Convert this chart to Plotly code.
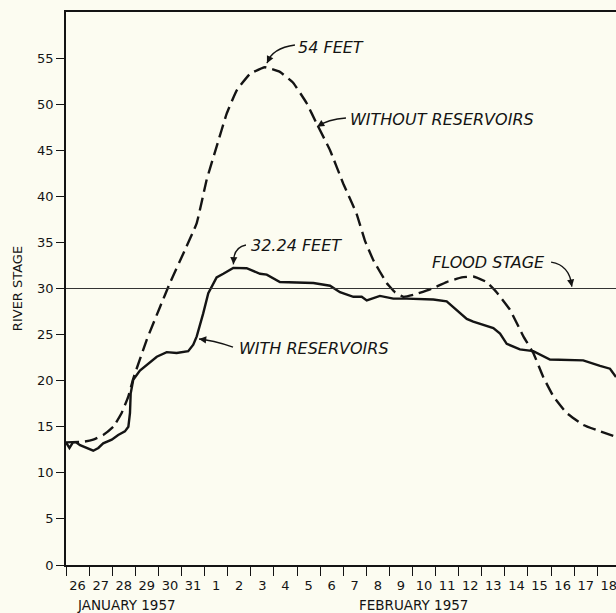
import plotly.graph_objects as go

# Days are measured from 00:00 on 26 January 1957 (0 = start of Jan 26).
DAY_LABELS = ["26", "27", "28", "29", "30", "31",
              "1", "2", "3", "4", "5", "6", "7", "8", "9", "10",
              "11", "12", "13", "14", "15", "16", "17", "18"]
X_MAX = 23.81
Y_MAX = 60
FLOOD_STAGE = 30

# Observed stage with the reservoirs in operation
with_day = [0.00, 0.15, 0.30, 0.45, 0.61, 1.18, 1.40, 1.61, 1.98, 2.26, 2.55,
            2.70, 2.77, 2.80, 2.91, 3.20, 3.93, 4.36, 4.79, 5.29, 5.51, 5.66,
            5.94, 6.16, 6.31, 6.52, 6.81, 7.24, 7.82, 8.40, 8.69, 9.26, 10.71,
            11.43, 11.86, 12.44, 12.80, 13.02, 13.59, 14.17, 14.75, 15.90,
            16.48, 16.91, 17.35, 17.63, 18.50, 18.79, 19.08, 19.65, 20.23,
            20.95, 22.39, 23.12, 23.55, 23.81]
with_stage = [13.3, 12.7, 13.3, 13.3, 13.0, 12.4, 12.7, 13.2, 13.6, 14.1, 14.5,
              15.0, 16.5, 18.6, 20.1, 21.1, 22.6, 23.1, 23.0, 23.2, 23.9, 24.8,
              27.3, 29.5, 30.2, 31.2, 31.6, 32.24, 32.2, 31.6, 31.5, 30.7, 30.6,
              30.3, 29.6, 29.1, 29.1, 28.7, 29.2, 28.9, 28.9, 28.8,
              28.6, 27.7, 26.7, 26.4, 25.7, 25.1, 24.0, 23.4, 23.2,
              22.3, 22.2, 21.6, 21.3, 20.4]

# Computed stage without the reservoirs
without_day = [0.00, 0.82, 1.18, 1.61, 2.05, 2.41, 2.70, 2.91, 3.49, 4.07, 4.50,
               5.08, 5.66, 6.09, 6.52, 6.96, 7.39, 7.97, 8.61, 9.26, 9.84,
               10.42, 10.85, 11.43, 12.00, 12.58, 12.94, 13.30, 13.88, 14.24,
               14.60, 15.03, 15.76, 16.48, 17.13, 17.63, 18.21, 18.64, 19.22,
               19.80, 20.23, 20.66, 21.10, 21.67, 22.39, 23.12, 23.81]
without_stage = [13.3, 13.4, 13.6, 14.1, 15.0, 16.5, 18.3, 20.2, 24.4, 28.0, 30.6,
                 33.8, 37.1, 41.8, 45.4, 49.0, 51.5, 53.3, 54.0, 53.5, 52.3,
                 50.1, 47.9, 45.0, 41.4, 38.1, 35.2, 33.1, 30.6, 29.6,
                 29.1, 29.3, 29.9, 30.7, 31.2, 31.3, 30.7, 29.6, 27.7,
                 24.8, 23.0, 20.4, 18.3, 16.5, 15.2, 14.5, 13.9]

INK = "#141414"
PAPER = "#fcfcf1"
FONT = "DejaVu Sans"

fig = go.Figure()

fig.add_trace(go.Scatter(
    x=[0, X_MAX], y=[FLOOD_STAGE, FLOOD_STAGE], mode="lines",
    line=dict(color="#333333", width=1.2), xaxis="x2", hoverinfo="skip",
    showlegend=False))

fig.add_trace(go.Scatter(
    x=without_day, y=without_stage, mode="lines",
    line=dict(color=INK, width=2.4, dash="13px,6px", shape="spline",
              smoothing=0.3),
    showlegend=False))

fig.add_trace(go.Scatter(
    x=with_day, y=with_stage, mode="lines",
    line=dict(color=INK, width=2.4), showlegend=False))

# Label text plus a curved leader ending in an arrowhead
callouts = [
    # text, text x, text y, text anchor, tail, control, head
    ("54 FEET", 9.96, 56.2, "left", (9.91, 56.42), (8.92, 56.09), (8.70, 54.45)),
    ("WITHOUT RESERVOIRS", 12.21, 48.3, "left", (12.12, 48.5), (11.34, 48.39), (10.87, 47.55)),
    ("32.24 FEET", 7.92, 34.72, "left", (7.79, 34.72), (7.22, 34.45), (7.25, 32.62)),
    ("WITH RESERVOIRS", 7.40, 23.54, "left", (7.23, 23.65), (6.32, 24.41), (5.76, 24.52)),
    ("FLOOD STAGE", 20.84, 32.77, "right", (21.0, 32.87), (21.82, 32.55), (21.90, 30.2)),
]

annotations = []
shapes = []
for text, tx, ty, anchor, tail, ctrl, head in callouts:
    annotations.append(dict(
        x=tx, y=ty, xref="x", yref="y", text=text, showarrow=False,
        xanchor=anchor, yanchor="middle",
        font=dict(family=FONT, size=16, color=INK, style="italic")))
    shapes.append(dict(
        type="path", xref="x", yref="y",
        path=f"M {tail[0]},{tail[1]} Q {ctrl[0]},{ctrl[1]} {head[0]},{head[1]}",
        line=dict(color=INK, width=1.3)))
    t = 0.8
    bx = (1 - t) ** 2 * tail[0] + 2 * (1 - t) * t * ctrl[0] + t ** 2 * head[0]
    by = (1 - t) ** 2 * tail[1] + 2 * (1 - t) * t * ctrl[1] + t ** 2 * head[1]
    annotations.append(dict(
        x=head[0], y=head[1], ax=bx, ay=by, xref="x", yref="y",
        axref="x", ayref="y", text="", showarrow=True, arrowhead=2,
        arrowsize=1.1, arrowwidth=1.3, arrowcolor=INK))

for text, xc in [("JANUARY 1957", 2.64), ("FEBRUARY 1957", 15.06)]:
    annotations.append(dict(
        x=xc, y=0, xref="x", yref="paper", yanchor="top", yshift=-30,
        text=text, showarrow=False,
        font=dict(family=FONT, size=13.5, color=INK)))

fig.update_layout(
    width=616, height=613,
    margin=dict(l=66, r=0, t=12, b=48),
    paper_bgcolor=PAPER, plot_bgcolor=PAPER,
    font=dict(family=FONT, size=13, color=INK),
    annotations=annotations, shapes=shapes,
    xaxis=dict(
        range=[0, X_MAX], tickvals=list(range(len(DAY_LABELS))),
        ticktext=[""] * len(DAY_LABELS), ticks="outside", ticklen=9,
        tickwidth=1.2, tickcolor=INK, showline=True, linecolor=INK,
        linewidth=1.5, mirror=True, showgrid=False, zeroline=False),
    xaxis2=dict(
        range=[0, X_MAX], overlaying="x", anchor="y", side="bottom",
        tickvals=[i + 0.5 for i in range(len(DAY_LABELS))],
        ticktext=DAY_LABELS, ticks="outside", ticklen=8,
        tickcolor="rgba(0,0,0,0)", showline=False, showgrid=False,
        zeroline=False, ticklabeloverflow="allow",
        tickfont=dict(family=FONT, size=13, color=INK)),
    yaxis=dict(
        range=[0, Y_MAX], tickvals=list(range(0, 56, 5)), ticks="outside",
        ticklen=8, tickwidth=1.2, tickcolor=INK, showline=True,
        linecolor=INK, linewidth=1.5, showgrid=False, zeroline=False,
        tickfont=dict(family=FONT, size=13, color=INK),
        title=dict(text="RIVER STAGE", standoff=12,
                   font=dict(family=FONT, size=13, color=INK))),
)

fig.write_html("out.html")
